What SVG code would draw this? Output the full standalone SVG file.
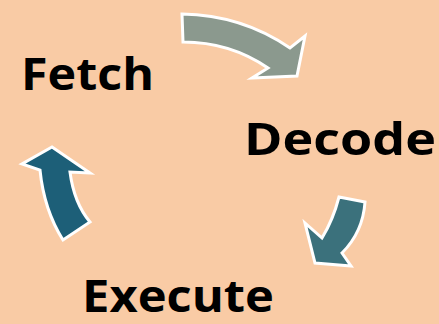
<svg xmlns="http://www.w3.org/2000/svg" width="439" height="324" viewBox="0 0 439 324">
  <style>
    .label { font-family: "Open Sans", "Liberation Sans", sans-serif; font-weight: 700; font-size: 45px; fill: #000; }
    .arrow { stroke: #ffffff; stroke-width: 3; stroke-linejoin: miter; }
  </style>
  <rect width="439" height="324" fill="#F9CBA5"/>

  <!-- cycle arrows -->
  <g id="connectors">
    <path id="fetch-to-decode" class="arrow" fill="#8B998E"
          d="M182,14 Q242,15 290,48 L305,36 L297,76 L252,78 L268,68 Q230,42 183,42 Z"/>
    <path id="decode-to-execute" class="arrow" fill="#3B717C"
          d="M339,197 L365,202 Q363,232 342,253 L351,266 L315,263 L305,223 L322,238 Q333,220 339,197 Z"/>
    <path id="execute-to-fetch" class="arrow" fill="#1D5F78"
          d="M52,147 L90,173 L70,172 Q74,203 90,222 L63,240 Q44,210 40,170 L22,164 Z"/>
  </g>

  <g id="fetch">
    <text class="label" x="21" y="90" textLength="133" lengthAdjust="spacingAndGlyphs">Fetch</text>
  </g>
  <g id="decode">
    <text class="label" x="244" y="155" textLength="192" lengthAdjust="spacingAndGlyphs">Decode</text>
  </g>
  <g id="execute">
    <text class="label" x="82" y="312" textLength="192" lengthAdjust="spacingAndGlyphs">Execute</text>
  </g>
</svg>
